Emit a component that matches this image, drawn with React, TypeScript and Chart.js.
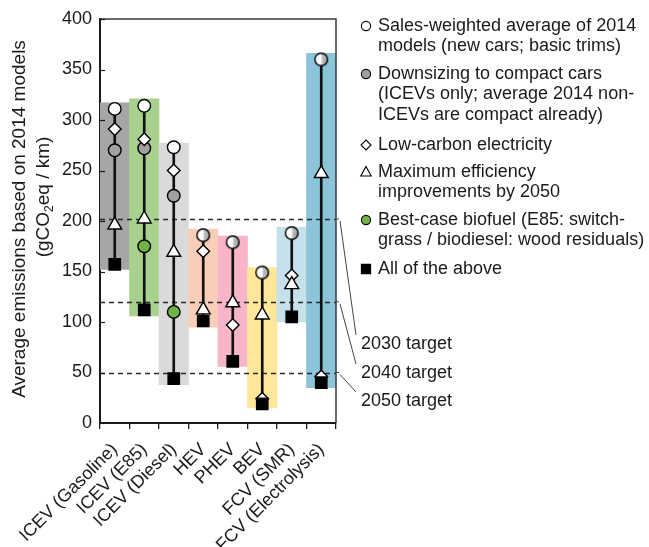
import React, { useEffect, useRef } from 'react';
import { Chart, registerables } from 'chart.js';

Chart.register(...registerables);

// ---------- data ----------
const categories = ['ICEV (Gasoline)', 'ICEV (E85)', 'ICEV (Diesel)', 'HEV', 'PHEV', 'BEV', 'FCV (SMR)', 'FCV (Electrolysis)'];
const rangeLow = [152, 106, 38, 95, 56, 15, 100, 35];
const rangeHigh = [317, 321, 277, 192, 185, 154, 194, 366];
const salesWeighted = [311, 314, 273, 186, 179, 149, 188, 360];
const downsizing = [270, 272, 225, null, null, null, null, null];
const lowCarbon = [291, 281, 250, 170, 97, 24, 146, 46];
const maxEfficiency = [196, 202, 169, 112, 119, 107, 137, 247];
const biofuel = [null, 175, 110, null, null, null, null, null];
const allAbove = [157, 112, 44, 101, 61, 19, 105, 40];
const targetValues = [202, 120, 50];
const targetLabels = ['2030 target', '2040 target', '2050 target'];
const isICEV = [true, true, true, false, false, false, false, false];
const yMin = 0;
const yMax = 400;
const yStep = 50;
const legendLines = [
  ['Sales-weighted average of 2014', 'models (new cars; basic trims)'],
  ['Downsizing to compact cars', '(ICEVs only; average 2014 non-', 'ICEVs are compact already)'],
  ['Low-carbon electricity'],
  ['Maximum efficiency', 'improvements by 2050'],
  ['Best-case biofuel (E85: switch-', 'grass / biodiesel: wood residuals)'],
  ['All of the above'],
];
const yTitle1 = 'Average emissions based on 2014 models';

// ---------- styles ----------
const barColors = ['#a6a6a6', '#a9d18e', '#dadada', '#f9cdb8', '#f9b5c8', '#ffe699', '#c6e1ec', '#8cc4da'];
const FONT = '"Liberation Sans", Arial, Helvetica, sans-serif';
const TXT = '#1a1a1a';

function halfCircleImage(): HTMLCanvasElement {
  const c = document.createElement('canvas');
  c.width = 16;
  c.height = 16;
  const g = c.getContext('2d')!;
  const r = 6.3;
  g.beginPath();
  g.arc(8, 8, r, 0, Math.PI * 2);
  const grad = g.createLinearGradient(4, 0, 13, 0);
  grad.addColorStop(0, '#ffffff');
  grad.addColorStop(0.42, '#ffffff');
  grad.addColorStop(0.55, '#bdbdbd');
  grad.addColorStop(1, '#a8a8a8');
  g.fillStyle = grad;
  g.fill();
  g.lineWidth = 1.4;
  g.strokeStyle = '#000';
  g.stroke();
  return c;
}

function drawMarker(ctx: CanvasRenderingContext2D, kind: string, x: number, y: number, fill: string) {
  ctx.save();
  ctx.beginPath();
  if (kind === 'circle') {
    ctx.arc(x, y, 4.6, 0, Math.PI * 2);
  } else if (kind === 'diamond') {
    ctx.moveTo(x, y - 5);
    ctx.lineTo(x + 5, y);
    ctx.lineTo(x, y + 5);
    ctx.lineTo(x - 5, y);
    ctx.closePath();
  } else if (kind === 'triangle') {
    ctx.moveTo(x, y - 5.5);
    ctx.lineTo(x + 5.2, y + 4);
    ctx.lineTo(x - 5.2, y + 4);
    ctx.closePath();
  } else if (kind === 'square') {
    ctx.rect(x - 4.6, y - 4.6, 9.2, 9.2);
  }
  ctx.fillStyle = fill;
  ctx.fill();
  ctx.lineWidth = 1.1;
  ctx.strokeStyle = '#000';
  ctx.stroke();
  ctx.restore();
}

const overlay = {
  id: 'overlay',
  afterDatasetDraw(chart: any, args: any) {
    if (args.index !== 0) return;
    const { ctx, chartArea, scales } = chart;
    ctx.save();
    ctx.strokeStyle = '#2a2a2a';
    ctx.lineWidth = 1.3;
    ctx.setLineDash([5, 4]);
    targetValues.forEach((v) => {
      const y = Math.round(scales.y.getPixelForValue(v)) + 0.5;
      ctx.beginPath();
      ctx.moveTo(chartArea.left, y);
      ctx.lineTo(chartArea.right, y);
      ctx.stroke();
    });
    ctx.restore();
  },
  afterDraw(chart: any) {
    const { ctx, chartArea, scales } = chart;
    const { left, right, top, bottom } = chartArea;
    ctx.save();
    // frame top & right
    ctx.strokeStyle = '#3a3a3a';
    ctx.lineWidth = 1.5;
    ctx.beginPath();
    ctx.moveTo(left, top);
    ctx.lineTo(right, top);
    ctx.lineTo(right, bottom);
    ctx.stroke();
    // inner y ticks
    ctx.strokeStyle = '#1a1a1a';
    ctx.lineWidth = 1.2;
    for (let v = yMin + yStep; v <= yMax; v += yStep) {
      const y = Math.round(scales.y.getPixelForValue(v)) + 0.5;
      ctx.beginPath();
      ctx.moveTo(left, y);
      ctx.lineTo(left + 5, y);
      ctx.stroke();
    }
    // target ticks, leader lines, labels
    ctx.strokeStyle = '#444';
    ctx.lineWidth = 1;
    const labelY = [344, 373, 401];
    targetValues.forEach((v, i) => {
      const y = scales.y.getPixelForValue(v);
      ctx.beginPath();
      ctx.moveTo(right, y);
      ctx.lineTo(right + 3, y);
      ctx.stroke();
      ctx.beginPath();
      ctx.moveTo(right + 4, y + 2);
      ctx.lineTo(right + 20, labelY[i] - 9);
      ctx.stroke();
    });
    ctx.fillStyle = TXT;
    ctx.font = `18px ${FONT}`;
    ctx.textAlign = 'left';
    ctx.textBaseline = 'middle';
    targetLabels.forEach((t, i) => ctx.fillText(t, right + 25, labelY[i]));

    // legend
    const markers = [
      ['circle', '#ffffff'],
      ['circle', '#a0a0a0'],
      ['diamond', '#ffffff'],
      ['triangle', '#ffffff'],
      ['circle', '#70b244'],
      ['square', '#000000'],
    ];
    const lineTops = [26, 74, 145, 172, 220, 269];
    const lineH = 20.5;
    legendLines.forEach((lines, i) => {
      drawMarker(ctx, markers[i][0], 366, lineTops[i], markers[i][1]);
      ctx.fillStyle = TXT;
      lines.forEach((ln, j) => ctx.fillText(ln, 378, lineTops[i] + j * lineH));
    });

    // y title
    ctx.fillStyle = TXT;
    ctx.font = `19px ${FONT}`;
    ctx.save();
    ctx.translate(25, 219);
    ctx.rotate(-Math.PI / 2);
    ctx.textAlign = 'center';
    ctx.textBaseline = 'alphabetic';
    ctx.fillText(yTitle1, 0, 0);
    ctx.restore();
    ctx.save();
    ctx.translate(49, 197);
    ctx.rotate(-Math.PI / 2);
    ctx.textAlign = 'left';
    ctx.textBaseline = 'alphabetic';
    const p1 = '(gCO';
    const p2 = '2';
    const p3 = 'eq / km)';
    ctx.font = `19px ${FONT}`;
    const w1 = ctx.measureText(p1).width;
    const w3 = ctx.measureText(p3).width;
    ctx.font = `12px ${FONT}`;
    const w2 = ctx.measureText(p2).width;
    let x0 = -(w1 + w2 + w3) / 2;
    ctx.font = `19px ${FONT}`;
    ctx.fillText(p1, x0, 0);
    x0 += w1;
    ctx.font = `12px ${FONT}`;
    ctx.fillText(p2, x0, 4);
    x0 += w2;
    ctx.font = `19px ${FONT}`;
    ctx.fillText(p3, x0, 0);
    ctx.restore();
    ctx.restore();
  },
};

export default function App() {
  const ref = useRef<HTMLCanvasElement | null>(null);
  useEffect(() => {
    document.body.style.margin = '0';
    const canvas = ref.current!;
    const half = halfCircleImage();
    const series = [salesWeighted, downsizing, lowCarbon, maxEfficiency, biofuel, allAbove];
    const stemLow = categories.map((_, i) =>
      Math.min(...(series.map((s) => s[i]).filter((v) => v !== null) as number[]))
    );
    const stemHigh = categories.map((_, i) =>
      Math.max(...(series.map((s) => s[i]).filter((v) => v !== null) as number[]))
    );
    const pointBase = {
      type: 'line' as const,
      showLine: false,
      pointBorderColor: '#000',
      pointBorderWidth: 1.4,
      pointHoverRadius: 0,
    };
    const chart = new Chart(canvas, {
      type: 'bar',
      data: {
        labels: categories,
        datasets: [
          {
            type: 'bar',
            data: categories.map((_, i) => [rangeLow[i], rangeHigh[i]]) as any,
            backgroundColor: barColors,
            borderWidth: 0,
            barPercentage: 1,
            categoryPercentage: 1,
            grouped: false,
            order: 10,
          },
          {
            type: 'bar',
            data: categories.map((_, i) => [stemLow[i], stemHigh[i]]) as any,
            backgroundColor: '#111',
            borderWidth: 0,
            barThickness: 2,
            grouped: false,
            order: 8,
          },
          {
            ...pointBase,
            data: salesWeighted,
            pointStyle: isICEV.map((b) => (b ? 'circle' : half)) as any,
            pointRadius: 6.3,
            pointBackgroundColor: '#ffffff',
            order: 6,
          },
          {
            ...pointBase,
            data: downsizing,
            pointStyle: 'circle',
            pointRadius: 6.3,
            pointBackgroundColor: '#a0a0a0',
            order: 5,
          },
          {
            ...pointBase,
            data: lowCarbon,
            pointStyle: 'rectRot',
            pointRadius: 6.3,
            pointBackgroundColor: '#ffffff',
            order: 4,
          },
          {
            ...pointBase,
            data: maxEfficiency,
            pointStyle: 'triangle',
            pointRadius: 8,
            pointBackgroundColor: '#ffffff',
            order: 3,
          },
          {
            ...pointBase,
            data: biofuel,
            pointStyle: 'circle',
            pointRadius: 6.3,
            pointBackgroundColor: '#70b244',
            order: 2,
          },
          {
            ...pointBase,
            data: allAbove,
            pointStyle: 'rect',
            pointRadius: 8,
            pointBackgroundColor: '#000000',
            order: 1,
          },
        ] as any,
      },
      options: {
        responsive: false,
        animation: false,
        events: [],
        layout: { padding: { left: 0, top: 19, right: 313, bottom: 0 } },
        plugins: { legend: { display: false }, tooltip: { enabled: false } },
        scales: {
          x: {
            type: 'category',
            offset: true,
            grid: {
              display: true,
              offset: true,
              drawOnChartArea: false,
              drawTicks: true,
              tickLength: 6,
              color: '#1a1a1a',
              lineWidth: 1.3,
            },
            border: { display: true, color: '#1a1a1a', width: 2 },
            ticks: {
              autoSkip: false,
              maxRotation: 45,
              minRotation: 45,
              padding: 10,
              color: TXT,
              font: { family: FONT, size: 18 },
            },
            afterFit: (s: any) => {
              s.height = 124;
            },
          },
          y: {
            min: yMin,
            max: yMax,
            grid: { display: false, drawTicks: false },
            border: { display: true, color: '#1a1a1a', width: 2 },
            ticks: {
              stepSize: yStep,
              padding: 8,
              color: TXT,
              font: { family: FONT, size: 18 },
            },
            afterFit: (s: any) => {
              s.width = 100;
            },
          },
        },
      },
      plugins: [overlay],
    });
    return () => chart.destroy();
  }, []);
  return (
    <div style={{ position: 'absolute', left: 0, top: 0, width: 649, height: 547 }}>
      <canvas ref={ref} width={649} height={547} />
    </div>
  );
}
